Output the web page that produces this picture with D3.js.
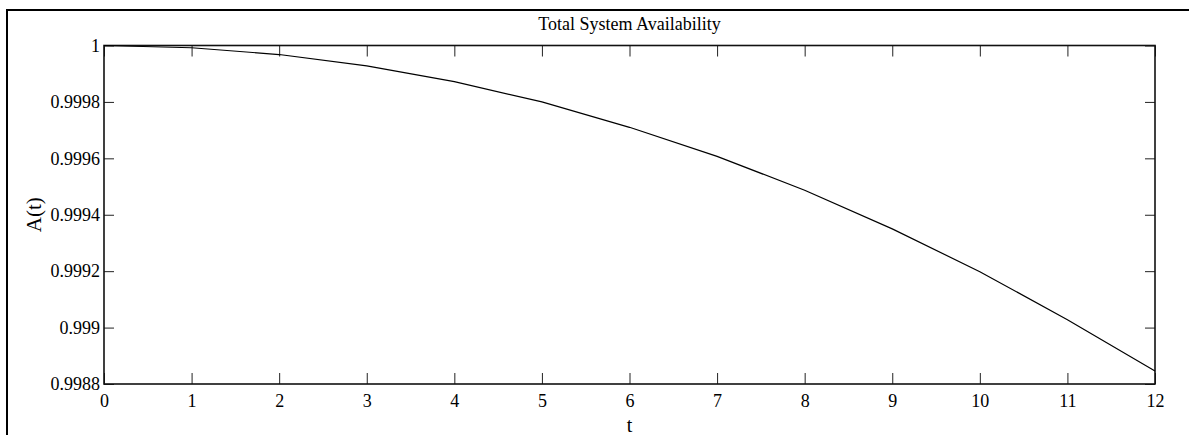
<!DOCTYPE html>
<html>
<head>
<meta charset="utf-8">
<script src="https://cdn.jsdelivr.net/npm/d3@7"></script>
<style>
  body { margin: 0; background: #fff; }
  svg { display: block; }
  .axis line { stroke: #222; stroke-width: 1; }
</style>
</head>
<body>
<div id="chart"></div>
<script>
// values
const tValues = [0, 1, 2, 3, 4, 5, 6, 7, 8, 9, 10, 11, 12];
const availability = [1.0, 0.999992, 0.999968, 0.999928, 0.999872, 0.999800, 0.999710,
                      0.999607, 0.999487, 0.999350, 0.999198, 0.999028, 0.998846];
const xTicks = [0, 1, 2, 3, 4, 5, 6, 7, 8, 9, 10, 11, 12];
const yTicks = [0.9988, 0.999, 0.9992, 0.9994, 0.9996, 0.9998, 1];
const titleText = "Total System Availability";
const xLabel = "t";
const yLabel = "A(t)";

(function(){
  const W = 1189, H = 435;
  const FONT = "'Liberation Serif', 'Times New Roman', serif";
  const margin = { top: 45.5, right: 34, bottom: 51, left: 104 },
      width = W - margin.left - margin.right,
      height = H - margin.top - margin.bottom;

  const root = d3.select("#chart")
      .append("svg")
      .attr("width", W)
      .attr("height", H);

  // outer figure frame (only top and left edge are visible)
  root.append("path")
      .attr("d", `M7,${H} V10 H${W}`)
      .attr("fill", "none")
      .attr("stroke", "#000")
      .attr("stroke-width", 2);

  const svg = root.append("g")
      .attr("transform", `translate(${margin.left},${margin.top})`);

  const x = d3.scaleLinear().domain([0, 12]).range([0, width]);
  const y = d3.scaleLinear().domain([0.9988, 1]).range([height, 0]);

  const fmt = d => String(+d.toFixed(4));

  const styleText = g => g.selectAll("text")
      .attr("font-family", FONT)
      .attr("font-size", 18)
      .attr("fill", "#000");

  // bottom axis with inward ticks
  svg.append("g")
      .attr("class", "axis")
      .attr("transform", `translate(0,${height})`)
      .call(d3.axisBottom(x).tickValues(xTicks).tickSize(-11).tickSizeOuter(0).tickPadding(10).tickFormat(d3.format("d")))
      .call(g => g.select(".domain").remove())
      .call(styleText);

  // top axis, ticks only
  svg.append("g")
      .attr("class", "axis")
      .call(d3.axisTop(x).tickValues(xTicks).tickSize(-11).tickSizeOuter(0).tickFormat(""))
      .call(g => g.select(".domain").remove());

  // left axis
  svg.append("g")
      .attr("class", "axis")
      .call(d3.axisLeft(y).tickValues(yTicks).tickSize(-10).tickSizeOuter(0).tickPadding(4).tickFormat(fmt))
      .call(g => g.select(".domain").remove())
      .call(styleText);

  // right axis, ticks only
  svg.append("g")
      .attr("class", "axis")
      .attr("transform", `translate(${width},0)`)
      .call(d3.axisRight(y).tickValues(yTicks).tickSize(-10).tickSizeOuter(0).tickFormat(""))
      .call(g => g.select(".domain").remove());

  // plot box
  svg.append("rect")
      .attr("x", 0).attr("y", 0)
      .attr("width", width).attr("height", height)
      .attr("fill", "none")
      .attr("stroke", "#111")
      .attr("stroke-width", 1.6);

  // the curve
  const line = d3.line()
      .x((d, i) => x(tValues[i]))
      .y(d => y(d));

  svg.append("path")
      .datum(availability)
      .attr("fill", "none")
      .attr("stroke", "#000")
      .attr("stroke-width", 1.2)
      .attr("d", line);

  // title
  svg.append("text")
      .attr("text-anchor", "middle")
      .attr("x", width / 2)
      .attr("y", 29.5 - margin.top)
      .attr("font-family", FONT)
      .attr("font-size", 18)
      .text(titleText);

  // x label
  svg.append("text")
      .attr("text-anchor", "middle")
      .attr("x", width / 2)
      .attr("y", 432 - margin.top)
      .attr("font-family", FONT)
      .attr("font-size", 20)
      .text(xLabel);

  // y label
  svg.append("text")
      .attr("text-anchor", "middle")
      .attr("transform", "rotate(-90)")
      .attr("x", -height / 2)
      .attr("y", 41 - margin.left)
      .attr("font-family", FONT)
      .attr("font-size", 21)
      .text(yLabel);
})();
</script>
</body>
</html>
